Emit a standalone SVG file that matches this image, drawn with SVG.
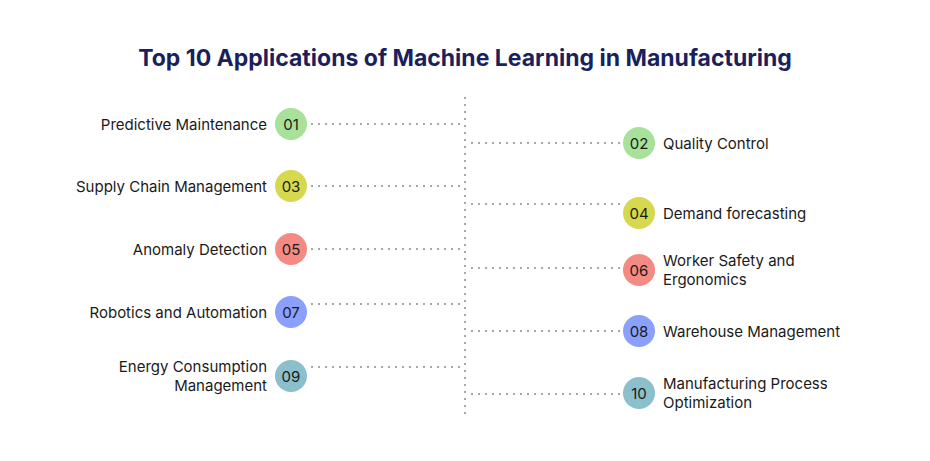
<svg xmlns="http://www.w3.org/2000/svg" width="930" height="461" viewBox="0 0 930 461">
<style>
text{font-family:Inter,"Noto Sans",sans-serif;fill:#1a1a1a}
.t{font-size:15px}
.n{font-size:15px;text-anchor:middle;dominant-baseline:central}
.l{text-anchor:end}
.c{stroke:#8a8a8a;stroke-width:2;stroke-dasharray:0 7;stroke-linecap:round;fill:none}
</style>
<rect width="930" height="461" fill="#fff"/>
<text x="465" y="66" text-anchor="middle" style="font-size:23px;font-weight:700;fill:#1b1f5e">Top 10 Applications of Machine Learning in Manufacturing</text>
<g id="connectors" class="c">
<path d="M465 98V420"/>
<path d="M312 124H460M312 186H460M312 249H460M312 304H460M312 367H460"/>
<path d="M472 143H620M472 204H620M472 268H620M472 331H620M472 394H620"/>
</g>
<g id="n01"><circle cx="291" cy="124" r="16" fill="#a8e29a"/><text class="n" x="291" y="124">01</text><text class="t l" x="267" y="130">Predictive Maintenance</text></g>
<g id="n02"><circle cx="639" cy="143" r="16" fill="#a8e29a"/><text class="n" x="639" y="143">02</text><text class="t" x="663" y="149">Quality Control</text></g>
<g id="n03"><circle cx="291" cy="186" r="16" fill="#d6d84e"/><text class="n" x="291" y="186">03</text><text class="t l" x="267" y="192">Supply Chain Management</text></g>
<g id="n04"><circle cx="639" cy="213" r="16" fill="#d6d84e"/><text class="n" x="639" y="213">04</text><text class="t" x="663" y="219">Demand forecasting</text></g>
<g id="n05"><circle cx="291" cy="249" r="16" fill="#f58a85"/><text class="n" x="291" y="249">05</text><text class="t l" x="267" y="255">Anomaly Detection</text></g>
<g id="n06"><circle cx="639" cy="270" r="16" fill="#f58a85"/><text class="n" x="639" y="270">06</text><text class="t" x="663" y="266">Worker Safety and</text><text class="t" x="663" y="285">Ergonomics</text></g>
<g id="n07"><circle cx="291" cy="312" r="16" fill="#8aa0fc"/><text class="n" x="291" y="312">07</text><text class="t l" x="267" y="318">Robotics and Automation</text></g>
<g id="n08"><circle cx="639" cy="331" r="16" fill="#8aa0fc"/><text class="n" x="639" y="331">08</text><text class="t" x="663" y="337">Warehouse Management</text></g>
<g id="n09"><circle cx="291" cy="376" r="16" fill="#8cbfcc"/><text class="n" x="291" y="376">09</text><text class="t l" x="267" y="372">Energy Consumption</text><text class="t l" x="267" y="391">Management</text></g>
<g id="n10"><circle cx="639" cy="393" r="16" fill="#8cbfcc"/><text class="n" x="639" y="393">10</text><text class="t" x="663" y="389">Manufacturing Process</text><text class="t" x="663" y="408">Optimization</text></g>
</svg>
